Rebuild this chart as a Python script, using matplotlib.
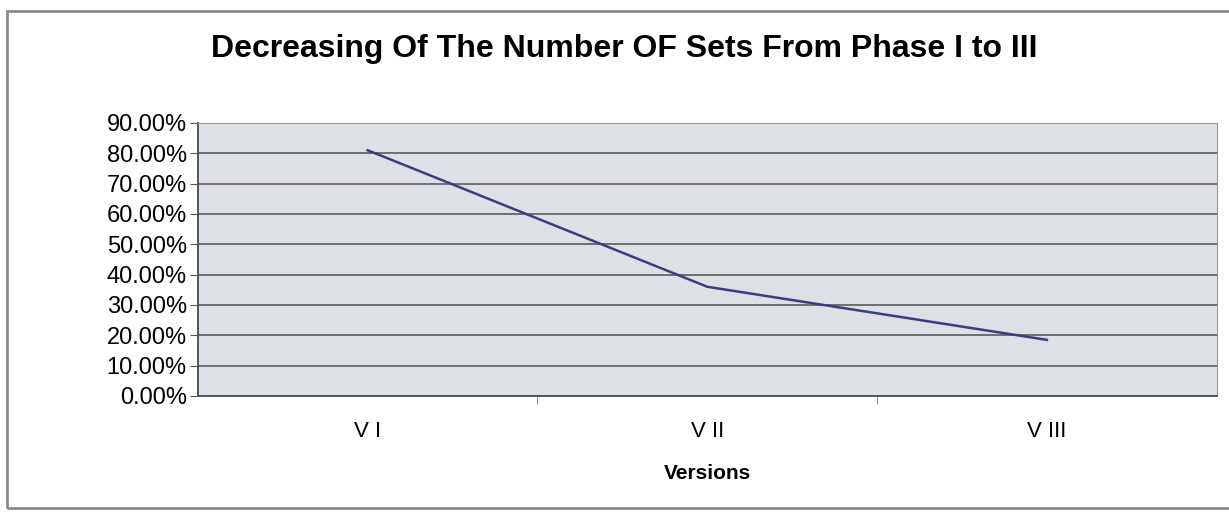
import matplotlib.pyplot as plt
from matplotlib.patches import Rectangle
from matplotlib.ticker import PercentFormatter
import numpy as np

# Share of sets left in each version
versions = ["V I", "V II", "V III"]
share = [0.81, 0.36, 0.185]
y_ticks = np.linspace(0, 0.9, 10)

plt.rcParams['font.family'] = ['Liberation Sans', 'DejaVu Sans']

fig = plt.figure(figsize=(12.29, 5.12), dpi=100)
fig.patch.set_facecolor('white')

# Outer chart frame (right edge runs off the page)
fig.patches.append(Rectangle((0.006, 0.008), 1.02, 0.97, transform=fig.transFigure,
                             fill=False, edgecolor='#8a8a8a', linewidth=2))

ax = fig.add_axes([0.161, 0.2266, 0.829, 0.5332])
ax.set_facecolor('#dde1e5')

x = np.arange(len(versions))
ax.plot(x, share, color='#3b3d7e', linewidth=1.8)

ax.set_xlim(-0.5, len(versions) - 0.5)
ax.set_ylim(0, 0.9)
ax.set_yticks(y_ticks)
ax.yaxis.set_major_formatter(PercentFormatter(1.0, decimals=2))
ax.grid(axis='y', color='#6e6e6e', linewidth=1.4)
ax.set_axisbelow(True)

ax.set_xticks(x)
ax.set_xticklabels(versions)
ax.set_xticks(np.arange(0.5, len(versions) - 0.5), minor=True)
ax.tick_params(axis='x', which='major', length=0, pad=18, labelsize=16)
ax.tick_params(axis='x', which='minor', length=6, color='#777777')
ax.tick_params(axis='y', length=6, color='#555555', labelsize=17, pad=2)

for side in ['top', 'right']:
    ax.spines[side].set_color('#9a9a9a')
for side in ['left', 'bottom']:
    ax.spines[side].set_color('#555555')
    ax.spines[side].set_linewidth(1.4)

ax.set_xlabel("Versions", fontsize=15, fontweight='bold', labelpad=16)
fig.text(0.508, 0.905, "Decreasing Of The Number OF Sets From Phase I to III",
         ha='center', va='center', fontsize=23, fontweight='bold')

fig.savefig("out.png", dpi=100)
